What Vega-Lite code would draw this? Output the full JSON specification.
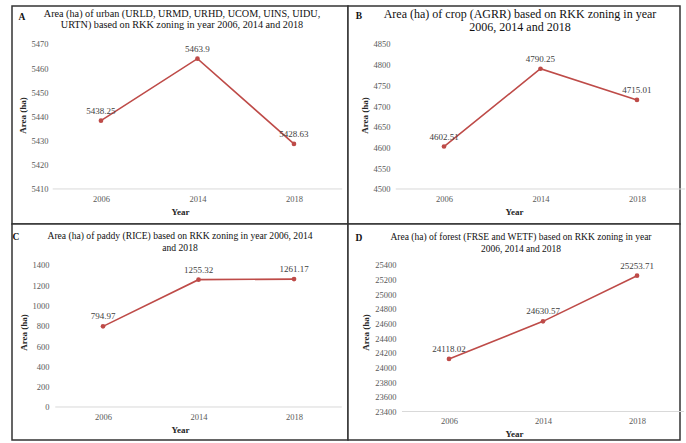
{
  "$schema": "https://vega.github.io/schema/vega-lite/v6.json",
  "background": "white",
  "padding": {"left": 11, "top": 5, "right": 7, "bottom": 3},
  "columns": 2,
  "spacing": 0,
  "bounds": "flush",
  "config": {
    "font": "Liberation Serif",
    "view": {"stroke": "#333333", "strokeWidth": 1.5, "fill": "white"},
    "axis": {"labelFont": "Liberation Serif", "titleFont": "Liberation Serif", "labelColor": "#595959", "titleColor": "#262626", "labelFontSize": 8.5, "titleFontSize": 9, "titleFontWeight": "bold", "grid": false, "domain": false, "ticks": false, "labelOverlap": false, "labelBound": false, "labelFlush": false},
    "title": {"font": "Liberation Serif", "fontWeight": "normal", "color": "#111111", "anchor": "middle"},
    "text": {"font": "Liberation Serif"}
  },
  "datasets": {
    "a": [{"idx": 0, "year": "2006", "value": 5438.25}, {"idx": 1, "year": "2014", "value": 5463.9}, {"idx": 2, "year": "2018", "value": 5428.63}],
    "b": [{"idx": 0, "year": "2006", "value": 4602.51}, {"idx": 1, "year": "2014", "value": 4790.25}, {"idx": 2, "year": "2018", "value": 4715.01}],
    "c": [{"idx": 0, "year": "2006", "value": 794.97}, {"idx": 1, "year": "2014", "value": 1255.32}, {"idx": 2, "year": "2018", "value": 1261.17}],
    "d": [{"idx": 0, "year": "2006", "value": 24118.02}, {"idx": 1, "year": "2014", "value": 24630.57}, {"idx": 2, "year": "2018", "value": 25253.71}],
    "la": [{"panel": "A"}],
    "lb": [{"panel": "B"}],
    "lc": [{"panel": "C"}],
    "ld": [{"panel": "D"}]
  },
  "concat": [
    {
      "width": 336, "height": 218,
      "title": {"text": ["Area (ha) of urban (URLD, URMD, URHD, UCOM, UINS, UIDU,", "URTN) based on RKK zoning in year 2006, 2014 and 2018"], "fontSize": 10.2, "lineHeight": 11, "offset": -24.5, "dx": 2},
      "layer": [
        {"data": {"name": "la"}, "mark": {"type": "rule", "color": "#d9d9d9", "strokeWidth": 1},
         "encoding": {"x": {"datum": -0.5, "type": "quantitative", "scale": {"domain": [-0.922, 2.56], "nice": false, "zero": false},
              "axis": {"title": "Year", "values": [0, 1, 2], "tickCount": 30, "labelExpr": "['2006','2014','2018'][datum.value]", "offset": -35, "labelPadding": 5, "titlePadding": 5}},
                      "x2": {"datum": 2.5},
                      "y": {"datum": 5410, "type": "quantitative", "scale": {"domain": [5395.5, 5485.7], "nice": false, "zero": false},
              "axis": {"title": "Area (ha)", "values": [5410, 5420, 5430, 5440, 5450, 5460, 5470], "tickCount": 30, "format": "d", "offset": -41, "labelPadding": 5, "titlePadding": 4}}}},
        {"data": {"name": "la"}, "mark": {"type": "text", "fontSize": 9.5, "fontWeight": "bold", "color": "#111111"},
         "encoding": {"text": {"field": "panel", "type": "nominal"}, "x": {"datum": -0.819, "type": "quantitative"}, "y": {"datum": 5481.2, "type": "quantitative"}}},
        {"data": {"name": "a"}, "mark": {"type": "line", "color": "#BE4B48", "strokeWidth": 1.6},
         "encoding": {"x": {"field": "idx", "type": "quantitative"}, "y": {"field": "value", "type": "quantitative"}}},
        {"data": {"name": "a"}, "mark": {"type": "point", "filled": true, "opacity": 1, "color": "#BE4B48", "size": 22},
         "encoding": {"x": {"field": "idx", "type": "quantitative"}, "y": {"field": "value", "type": "quantitative"}}},
        {"data": {"name": "a"}, "mark": {"type": "text", "dy": -10, "fontSize": 9, "color": "#404040"},
         "encoding": {"x": {"field": "idx", "type": "quantitative"}, "y": {"field": "value", "type": "quantitative"}, "text": {"field": "value", "type": "nominal"}}}
      ]
    },
    {
      "width": 332, "height": 218,
      "title": {"text": ["Area (ha) of crop (AGRR) based on RKK zoning in year", "2006, 2014 and 2018"], "fontSize": 12, "lineHeight": 13, "offset": -28, "dx": 6},
      "layer": [
        {"data": {"name": "lb"}, "mark": {"type": "rule", "color": "#d9d9d9", "strokeWidth": 1},
         "encoding": {"x": {"datum": -0.5, "type": "quantitative", "scale": {"domain": [-0.995, 2.446], "nice": false, "zero": false},
              "axis": {"title": "Year", "values": [0, 1, 2], "tickCount": 30, "labelExpr": "['2006','2014','2018'][datum.value]", "offset": -35, "labelPadding": 5, "titlePadding": 5}},
                      "x2": {"datum": 2.5},
                      "y": {"datum": 4500, "type": "quantitative", "scale": {"domain": [4415.5, 4941.7], "nice": false, "zero": false},
              "axis": {"title": "Area (ha)", "values": [4500, 4550, 4600, 4650, 4700, 4750, 4800, 4850], "tickCount": 30, "format": "d", "offset": -48, "labelPadding": 6, "titlePadding": 4}}}},
        {"data": {"name": "lb"}, "mark": {"type": "text", "fontSize": 9.5, "fontWeight": "bold", "color": "#111111"},
         "encoding": {"text": {"field": "panel", "type": "nominal"}, "x": {"datum": -0.881, "type": "quantitative"}, "y": {"datum": 4917.6, "type": "quantitative"}}},
        {"data": {"name": "b"}, "mark": {"type": "line", "color": "#BE4B48", "strokeWidth": 1.6},
         "encoding": {"x": {"field": "idx", "type": "quantitative"}, "y": {"field": "value", "type": "quantitative"}}},
        {"data": {"name": "b"}, "mark": {"type": "point", "filled": true, "opacity": 1, "color": "#BE4B48", "size": 22},
         "encoding": {"x": {"field": "idx", "type": "quantitative"}, "y": {"field": "value", "type": "quantitative"}}},
        {"data": {"name": "b"}, "mark": {"type": "text", "dy": -10, "fontSize": 9, "color": "#404040"},
         "encoding": {"x": {"field": "idx", "type": "quantitative"}, "y": {"field": "value", "type": "quantitative"}, "text": {"field": "value", "type": "nominal"}}}
      ]
    },
    {
      "width": 336, "height": 216,
      "title": {"text": ["Area (ha) of paddy (RICE) based on RKK zoning in year 2006, 2014", "and 2018"], "fontSize": 9.6, "lineHeight": 12, "offset": -29, "dx": 0},
      "layer": [
        {"data": {"name": "lc"}, "mark": {"type": "rule", "color": "#d9d9d9", "strokeWidth": 1},
         "encoding": {"x": {"datum": -0.5, "type": "quantitative", "scale": {"domain": [-0.953, 2.565], "nice": false, "zero": false},
              "axis": {"title": "Year", "values": [0, 1, 2], "tickCount": 30, "labelExpr": "['2006','2014','2018'][datum.value]", "offset": -33, "labelPadding": 5, "titlePadding": 5}},
                      "x2": {"datum": 2.5},
                      "y": {"datum": 0, "type": "quantitative", "scale": {"domain": [-325.4, 1804.2], "nice": false, "zero": false},
              "axis": {"title": "Area (ha)", "values": [0, 200, 400, 600, 800, 1000, 1200, 1400], "tickCount": 30, "format": "d", "offset": -43, "labelPadding": 6, "titlePadding": 4}}}},
        {"data": {"name": "lc"}, "mark": {"type": "text", "fontSize": 9.5, "fontWeight": "bold", "color": "#111111"},
         "encoding": {"text": {"field": "panel", "type": "nominal"}, "x": {"datum": -0.911, "type": "quantitative"}, "y": {"datum": 1680, "type": "quantitative"}}},
        {"data": {"name": "c"}, "mark": {"type": "line", "color": "#BE4B48", "strokeWidth": 1.6},
         "encoding": {"x": {"field": "idx", "type": "quantitative"}, "y": {"field": "value", "type": "quantitative"}}},
        {"data": {"name": "c"}, "mark": {"type": "point", "filled": true, "opacity": 1, "color": "#BE4B48", "size": 22},
         "encoding": {"x": {"field": "idx", "type": "quantitative"}, "y": {"field": "value", "type": "quantitative"}}},
        {"data": {"name": "c"}, "mark": {"type": "text", "dy": -10, "fontSize": 9, "color": "#404040"},
         "encoding": {"x": {"field": "idx", "type": "quantitative"}, "y": {"field": "value", "type": "quantitative"}, "text": {"field": "value", "type": "nominal"}}}
      ]
    },
    {
      "width": 332, "height": 216,
      "title": {"text": ["Area (ha) of forest (FRSE and WETF) based on RKK zoning in year", "2006, 2014 and 2018"], "fontSize": 9.5, "lineHeight": 12, "offset": -29.5, "dx": 7},
      "layer": [
        {"data": {"name": "ld"}, "mark": {"type": "rule", "color": "#d9d9d9", "strokeWidth": 1},
         "encoding": {"x": {"datum": -0.5, "type": "quantitative", "scale": {"domain": [-1.074, 2.457], "nice": false, "zero": false},
              "axis": {"title": "Year", "values": [0, 1, 2], "tickCount": 30, "labelExpr": "['2006','2014','2018'][datum.value]", "offset": -28.5, "labelPadding": 5, "titlePadding": 4}},
                      "x2": {"datum": 2.5},
                      "y": {"datum": 23400, "type": "quantitative", "scale": {"domain": [23011, 25959.7], "nice": false, "zero": false},
              "axis": {"title": "Area (ha)", "values": [23400, 23600, 23800, 24000, 24200, 24400, 24600, 24800, 25000, 25200, 25400], "tickCount": 30, "format": "d", "offset": -54, "labelPadding": 6, "titlePadding": 4}}}},
        {"data": {"name": "ld"}, "mark": {"type": "text", "fontSize": 9.5, "fontWeight": "bold", "color": "#111111"},
         "encoding": {"text": {"field": "panel", "type": "nominal"}, "x": {"datum": -0.957, "type": "quantitative"}, "y": {"datum": 25768.6, "type": "quantitative"}}},
        {"data": {"name": "d"}, "mark": {"type": "line", "color": "#BE4B48", "strokeWidth": 1.6},
         "encoding": {"x": {"field": "idx", "type": "quantitative"}, "y": {"field": "value", "type": "quantitative"}}},
        {"data": {"name": "d"}, "mark": {"type": "point", "filled": true, "opacity": 1, "color": "#BE4B48", "size": 22},
         "encoding": {"x": {"field": "idx", "type": "quantitative"}, "y": {"field": "value", "type": "quantitative"}}},
        {"data": {"name": "d"}, "mark": {"type": "text", "dy": -10, "fontSize": 9, "color": "#404040"},
         "encoding": {"x": {"field": "idx", "type": "quantitative"}, "y": {"field": "value", "type": "quantitative"}, "text": {"field": "value", "type": "nominal"}}}
      ]
    }
  ]
}
